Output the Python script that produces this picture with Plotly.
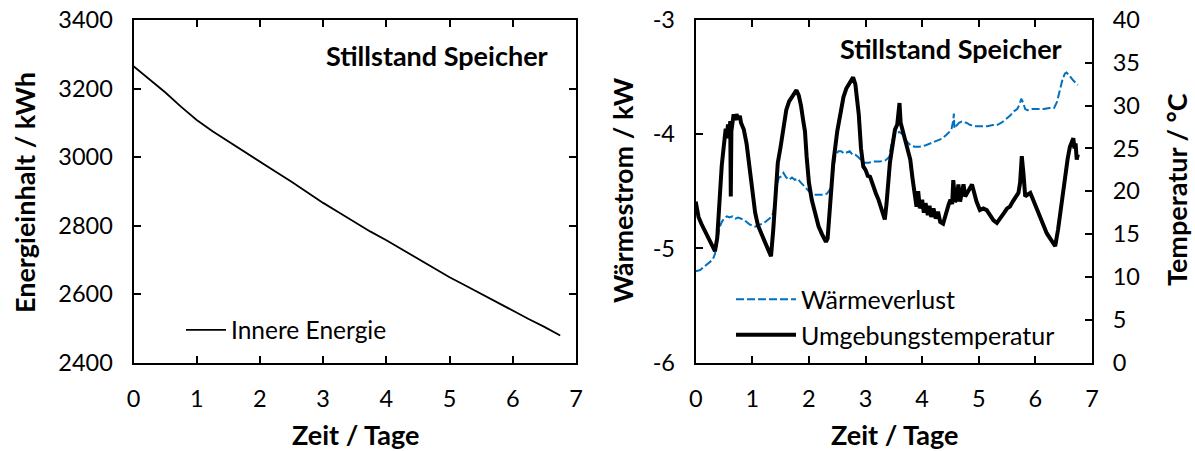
import plotly.graph_objects as go

# ---------------- data ----------------
t_energy = [0.00, 0.25, 0.50, 0.75, 1.00, 1.25, 1.50, 1.75, 2.00, 2.25, 2.50, 2.75, 3.00, 3.25,
            3.50, 3.75, 4.00, 4.25, 4.50, 4.75, 5.00, 5.25, 5.50, 5.75, 6.00, 6.25, 6.50, 6.75]
innere_energie = [3265, 3227, 3189, 3147, 3108, 3075, 3045, 3015, 2986, 2957, 2928, 2897, 2866, 2838,
                  2810, 2782, 2757, 2730, 2704, 2676, 2649, 2625, 2600, 2575, 2552, 2527, 2504, 2479]

t_loss = [0.00, 0.08, 0.15, 0.22, 0.30, 0.34, 0.38, 0.42, 0.46, 0.50, 0.55, 0.60, 0.65, 0.70, 0.75,
          0.80, 0.85, 0.90, 0.95, 1.00, 1.05, 1.10, 1.15, 1.20, 1.25, 1.30, 1.35, 1.40, 1.43, 1.47,
          1.51, 1.55, 1.60, 1.65, 1.70, 1.75, 1.80, 1.85, 1.90, 1.95, 2.00, 2.05, 2.10, 2.17, 2.25,
          2.32, 2.38, 2.42, 2.47, 2.52, 2.57, 2.62, 2.67, 2.72, 2.77, 2.82, 2.87, 2.92, 2.97, 3.05,
          3.15, 3.25, 3.35, 3.42, 3.46, 3.50, 3.55, 3.60, 3.65, 3.70, 3.75, 3.80, 3.87, 3.95, 4.05,
          4.15, 4.25, 4.35, 4.42, 4.48, 4.52, 4.55, 4.56, 4.57, 4.60, 4.65, 4.70, 4.78, 4.85, 4.95,
          5.05, 5.15, 5.25, 5.32, 5.40, 5.48, 5.55, 5.62, 5.68, 5.72, 5.75, 5.78, 5.82, 5.86, 5.95,
          6.05, 6.15, 6.25, 6.33, 6.38, 6.43, 6.48, 6.52, 6.55, 6.59, 6.63, 6.67, 6.71, 6.75]
waermeverlust = [-5.20, -5.19, -5.16, -5.13, -5.10, -5.05, -4.92, -4.82, -4.77, -4.74, -4.72, -4.73, -4.72, -4.74, -4.73,
                 -4.74, -4.75, -4.77, -4.79, -4.80, -4.81, -4.80, -4.79, -4.78, -4.76, -4.74, -4.72, -4.62, -4.45, -4.38,
                 -4.37, -4.34, -4.38, -4.40, -4.38, -4.40, -4.39, -4.42, -4.45, -4.47, -4.50, -4.52, -4.53, -4.53, -4.53,
                 -4.52, -4.48, -4.35, -4.18, -4.15, -4.15, -4.17, -4.16, -4.15, -4.18, -4.18, -4.20, -4.23, -4.25, -4.25,
                 -4.24, -4.24, -4.23, -4.20, -4.08, -4.01, -3.99, -3.98, -4.00, -4.05, -4.08, -4.10, -4.11, -4.11, -4.10,
                 -4.08, -4.06, -4.04, -4.01, -3.98, -3.95, -3.88, -3.82, -3.95, -3.93, -3.90, -3.89, -3.90, -3.92, -3.93,
                 -3.93, -3.93, -3.92, -3.92, -3.90, -3.87, -3.84, -3.80, -3.78, -3.74, -3.69, -3.72, -3.78, -3.79, -3.78,
                 -3.78, -3.78, -3.77, -3.77, -3.72, -3.62, -3.52, -3.47, -3.46, -3.48, -3.51, -3.53, -3.55, -3.57]

t_temp = [0.00, 0.05, 0.10, 0.15, 0.20, 0.25, 0.30, 0.34, 0.38, 0.42, 0.46, 0.50, 0.53, 0.55, 0.57,
          0.60, 0.61, 0.62, 0.63, 0.65, 0.67, 0.70, 0.72, 0.75, 0.78, 0.80, 0.85, 0.90, 0.95, 1.00,
          1.05, 1.10, 1.15, 1.20, 1.25, 1.30, 1.33, 1.37, 1.41, 1.45, 1.50, 1.55, 1.60, 1.65, 1.70,
          1.75, 1.78, 1.82, 1.86, 1.90, 1.93, 1.96, 2.00, 2.05, 2.10, 2.17, 2.23, 2.30, 2.33, 2.37,
          2.43, 2.50, 2.56, 2.61, 2.66, 2.72, 2.78, 2.82, 2.85, 2.88, 2.92, 2.96, 3.00, 3.04, 3.08,
          3.12, 3.18, 3.23, 3.28, 3.34, 3.37, 3.43, 3.48, 3.52, 3.56, 3.60, 3.62, 3.67, 3.72, 3.79,
          3.83, 3.87, 3.90, 3.93, 3.96, 4.00, 4.03, 4.06, 4.10, 4.13, 4.16, 4.20, 4.24, 4.28, 4.32,
          4.37, 4.42, 4.47, 4.50, 4.53, 4.55, 4.58, 4.61, 4.64, 4.67, 4.70, 4.73, 4.76, 4.80, 4.84,
          4.88, 4.92, 4.96, 5.02, 5.08, 5.14, 5.20, 5.26, 5.32, 5.38, 5.45, 5.50, 5.55, 5.60, 5.65,
          5.70, 5.73, 5.76, 5.79, 5.82, 5.86, 5.91, 5.96, 6.00, 6.05, 6.10, 6.15, 6.20, 6.25, 6.30,
          6.35, 6.40, 6.45, 6.49, 6.53, 6.57, 6.61, 6.64, 6.67, 6.69, 6.71, 6.73, 6.75]
umgebungstemperatur = [18.8, 17.0, 16.2, 15.5, 14.9, 14.3, 13.6, 13.0, 14.5, 19.5, 23.0, 25.5, 27.3, 26.2, 27.8,
                       26.5, 28.2, 19.4, 27.0, 28.0, 29.0, 28.3, 29.0, 28.4, 28.8, 28.0, 27.2, 25.5, 23.0, 20.0,
                       17.5, 16.0, 15.2, 14.4, 13.8, 13.0, 12.4, 15.5, 20.5, 23.3, 25.2, 27.5, 29.5, 30.5, 31.0,
                       31.4, 31.8, 31.2, 30.0, 28.2, 27.0, 24.0, 21.0, 19.0, 17.5, 15.9, 15.0, 14.1, 14.5, 18.0,
                       23.3, 27.0, 29.5, 31.0, 32.0, 32.6, 33.3, 32.5, 31.0, 29.0, 25.0, 22.9, 22.5, 21.8, 21.7,
                       20.8, 19.8, 19.0, 18.0, 16.7, 18.5, 23.3, 25.5, 27.2, 27.8, 30.3, 28.0, 26.8, 25.5, 23.7,
                       21.5, 19.4, 18.2, 20.0, 18.0, 19.0, 17.5, 18.6, 17.2, 18.3, 17.0, 18.0, 16.8, 17.6, 16.4,
                       16.2, 17.5, 18.5, 19.0, 18.5, 21.3, 18.8, 19.0, 20.8, 18.8, 19.6, 20.8, 19.4, 19.9, 20.3,
                       20.8, 19.8, 18.8, 17.8, 18.0, 17.8, 17.2, 16.6, 16.3, 16.8, 17.5, 18.0, 18.2, 18.8, 19.3,
                       19.8, 21.0, 24.1, 22.0, 19.4, 19.6, 19.8, 19.0, 18.4, 17.5, 16.7, 15.9, 15.1, 14.6, 14.1,
                       13.6, 15.5, 18.0, 20.2, 22.0, 23.8, 25.2, 25.9, 26.2, 25.0, 25.6, 23.7, 24.3]

x_ticks = [0, 1, 2, 3, 4, 5, 6, 7]
energy_ticks = [2400, 2600, 2800, 3000, 3200, 3400]
power_ticks = [-6, -5, -4, -3]
power_ticktext = ["-6", "-5", "-4", "-3"]
temp_ticks = [0, 5, 10, 15, 20, 25, 30, 35, 40]

title_text = "Stillstand Speicher"
FONT = "Lato"
BLUE = "#0070C0"

# ---------------- figure ----------------
W, H = 1195, 451
def px(x):
    return x / W
def py(y):
    return 1 - y / H

fig = go.Figure()
fig.add_trace(go.Scatter(x=t_energy, y=innere_energie, mode="lines", name="Innere Energie",
                         line=dict(color="black", width=1.8), xaxis="x", yaxis="y", legend="legend"))
fig.add_trace(go.Scatter(x=t_loss, y=waermeverlust, mode="lines", name="Wärmeverlust",
                         line=dict(color=BLUE, width=2, dash="8px,3px"), xaxis="x2", yaxis="y2", legend="legend2"))
fig.add_trace(go.Scatter(x=t_temp, y=umgebungstemperatur, mode="lines", name="Umgebungstemperatur",
                         line=dict(color="black", width=4), xaxis="x2", yaxis="y3", legend="legend2"))

axis_common = dict(showline=True, linecolor="black", linewidth=2, ticks="inside", ticklen=7,
                   tickwidth=1.5, tickcolor="black", showgrid=False, zeroline=False, automargin=False,
                   tickfont=dict(family=FONT, size=23.5, color="black"))

fig.update_layout(
    width=W, height=H,
    margin=dict(l=0, r=0, t=0, b=0, autoexpand=False),
    paper_bgcolor="white", plot_bgcolor="white",
    font=dict(family=FONT, color="black"),
    xaxis=dict(domain=[px(133.5), px(576)], range=[0, 7], tickvals=x_ticks, anchor="y",
               mirror="ticks", ticklabelstandoff=14, **axis_common),
    yaxis=dict(domain=[py(362.5), py(20)], range=[2400, 3400], tickvals=energy_ticks, anchor="x",
               mirror="ticks", ticklabelstandoff=14, **axis_common),
    xaxis2=dict(domain=[px(695.7), px(1092)], range=[0, 7], tickvals=x_ticks, anchor="y2",
                mirror="ticks", ticklabelstandoff=14, **axis_common),
    yaxis2=dict(domain=[py(362.5), py(20)], range=[-6, -3], tickvals=power_ticks, ticktext=power_ticktext,
                anchor="x2", mirror=True, ticklabelstandoff=14, **axis_common),
    yaxis3=dict(range=[0, 40], tickvals=temp_ticks, overlaying="y2", anchor="x2", side="right",
                ticklabelstandoff=14, **axis_common),
    legend=dict(x=px(181), y=py(330), xanchor="left", yanchor="middle", bgcolor="rgba(0,0,0,0)",
                font=dict(family=FONT, size=24.5, color="black"), itemwidth=40),
    legend2=dict(x=px(731), y=py(317), xanchor="left", yanchor="middle", bgcolor="rgba(0,0,0,0)",
                 font=dict(family=FONT, size=25, color="black"), itemwidth=60, tracegroupgap=0),
    showlegend=True,
)

def ann(text, x, y, angle=0):
    return dict(text=text, x=px(x), y=py(y), xref="paper", yref="paper", xanchor="center",
                yanchor="middle", showarrow=False, textangle=angle,
                font=dict(family=FONT, size=27, color="black"))

annotations = [
    ann("<b>" + title_text + "</b>", 437, 55),
    ann("<b>" + title_text + "</b>", 951, 48),
    ann("<b>Zeit / Tage</b>", 355, 434),
    ann("<b>Zeit / Tage</b>", 894, 434),
    ann("<b>Energieinhalt / kWh</b>", 24, 193, -90),
    ann("<b>Wärmestrom / kW</b>", 622, 190, -90),
    ann("<b>Temperatur / °C</b>", 1176, 190, -90),
]
fig.update_layout(annotations=annotations)

fig.write_html("out.html")
